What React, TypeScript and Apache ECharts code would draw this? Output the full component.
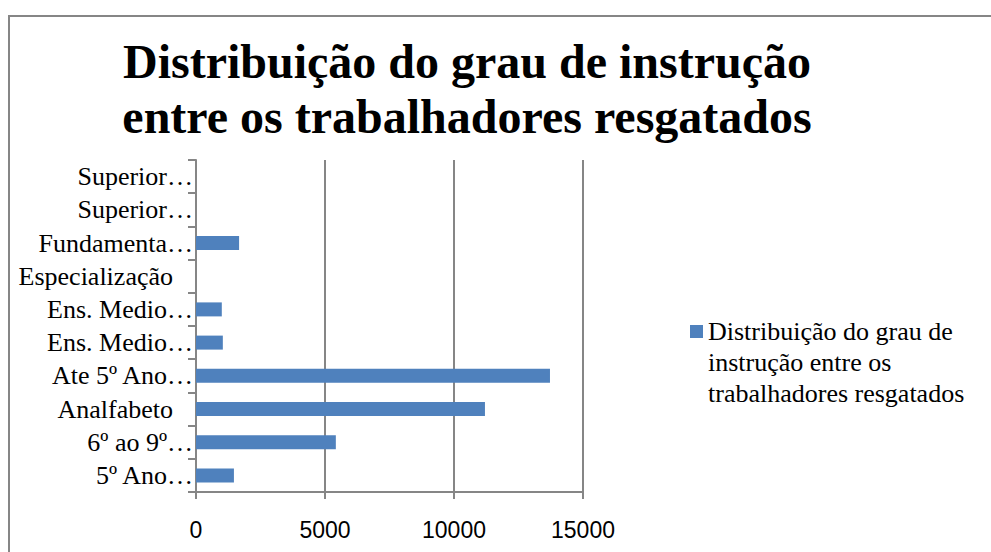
import React, { useEffect, useRef } from "react";
import * as echarts from "echarts";

const TITLE = "Distribuição do grau de instrução\nentre os trabalhadores resgatados";
const SERIES_NAME = "Distribuição do grau de instrução entre os trabalhadores resgatados";
const LEGEND_LINES = ["Distribuição do grau de", "instrução entre os", "trabalhadores resgatados"];
const categories = [
  "5º Ano…",
  "6º ao 9º…",
  "Analfabeto",
  "Ate 5º Ano…",
  "Ens. Medio…",
  "Ens. Medio…",
  "Especialização",
  "Fundamenta…",
  "Superior…",
  "Superior…",
];
const values = [1470, 5420, 11200, 13720, 1040, 1000, 0, 1670, 0, 0];
const xTicks = [0, 5000, 10000, 15000];

const GREY = "#868686";
const SERIF = "Liberation Serif";

export default function App() {
  const ref = useRef<HTMLDivElement>(null);
  useEffect(() => {
    if (!ref.current) return;
    const chart = echarts.init(ref.current, null, { renderer: "svg" });
    const L = 31;
    chart.setOption({
      animation: false,
      backgroundColor: "#ffffff",
      title: {
        text: TITLE,
        left: 467,
        textAlign: "center",
        top: 34,
        padding: 0,
        textStyle: {
          fontFamily: SERIF,
          fontWeight: "bold",
          fontSize: 48,
          lineHeight: 55,
          color: "#000000",
        },
      },
      legend: {
        left: 690,
        top: 325 + 6.5 - 2.5 * L,
        padding: 0,
        itemWidth: 13,
        itemHeight: 13,
        icon: "rect",
        data: [SERIES_NAME],
        formatter: () => "\n\n" + LEGEND_LINES.join("\n"),
        textStyle: {
          fontFamily: SERIF,
          fontSize: 26,
          lineHeight: L,
          color: "#000000",
        },
      },
      grid: { left: 196, right: 408, top: 160, bottom: 60, containLabel: false },
      xAxis: {
        type: "value",
        min: xTicks[0],
        max: xTicks[xTicks.length - 1],
        interval: xTicks[1] - xTicks[0],
        axisLine: { show: true, lineStyle: { color: GREY, width: 2 } },
        axisTick: { show: true, length: 7, lineStyle: { color: GREY, width: 2 } },
        splitLine: { show: true, lineStyle: { color: GREY, width: 2 } },
        axisLabel: {
          margin: 26,
          fontFamily: "Liberation Sans",
          fontSize: 23,
          color: "#000000",
          formatter: (v: number) => String(v),
        },
      },
      yAxis: {
        type: "category",
        data: categories,
        boundaryGap: true,
        axisLine: { show: true, lineStyle: { color: GREY, width: 2 } },
        axisTick: { show: true, length: 8, interval: 0, lineStyle: { color: GREY, width: 2 } },
        splitLine: { show: false },
        axisLabel: {
          interval: 0,
          margin: 3,
          fontFamily: SERIF,
          fontSize: 26,
          color: "#000000",
          formatter: (v: string) => (v.endsWith("…") ? v : "{p|" + v + "}"),
          rich: {
            p: {
              fontFamily: SERIF,
              fontSize: 26,
              color: "#000000",
              padding: [0, 20, 0, 0],
            },
          },
        },
      },
      graphic: [
        {
          type: "rect",
          shape: { x: 9, y: 16, width: 1100, height: 700 },
          style: { fill: "none", stroke: GREY, lineWidth: 2 },
          silent: true,
          z: 100,
        },
      ],
      series: [
        {
          name: SERIES_NAME,
          type: "bar",
          data: values,
          barWidth: 14,
          itemStyle: { color: "#4F81BD" },
        },
      ],
    });
    return () => chart.dispose();
  }, []);
  return (
    <div
      ref={ref}
      style={{ position: "absolute", left: 0, top: 0, width: 991, height: 552 }}
    />
  );
}
